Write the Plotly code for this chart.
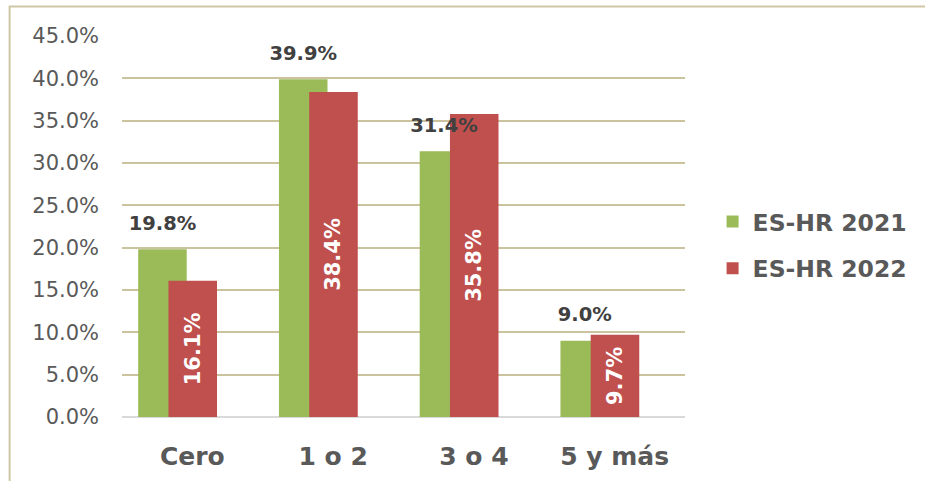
import plotly.graph_objects as go

categories = ["Cero", "1 o 2", "3 o 4", "5 y más"]
es_hr_2021 = [19.8, 39.9, 31.4, 9.0]
es_hr_2022 = [16.1, 38.4, 35.8, 9.7]
y_ticks = [0, 5, 10, 15, 20, 25, 30, 35, 40, 45]
y_tick_labels = [f"{v:.1f}%" for v in y_ticks]

GREEN = "#9BBB59"
RED = "#C0504D"
GRID = "#CBC29E"
TXT = "#595959"
DARK = "#404040"

xs = list(range(len(categories)))
BAR_W = 0.345
OFF_G = -0.385
OFF_R = -0.17

fig = go.Figure()
fig.add_trace(go.Bar(
    x=xs, y=es_hr_2021, name="ES-HR 2021", marker=dict(color=GREEN, line=dict(width=0)),
    width=BAR_W, offset=OFF_G, legendgroup="a", hoverinfo="skip",
))
fig.add_trace(go.Bar(
    x=xs, y=es_hr_2022, name="ES-HR 2022", marker=dict(color=RED, line=dict(width=0)),
    width=BAR_W, offset=OFF_R, legendgroup="b",
    text=[f"{v:.1f}%" for v in es_hr_2022], textposition="inside", textangle=-90,
    insidetextanchor="middle", constraintext="none",
    insidetextfont=dict(family="DejaVu Sans", size=21, color="white", weight="bold"),
    hoverinfo="skip",
))
fig.add_trace(go.Scatter(
    x=[x + OFF_G + BAR_W / 2 for x in xs], y=es_hr_2021, mode="markers+text",
    marker=dict(size=22, opacity=0), text=[f"{v:.1f}%" for v in es_hr_2021],
    textposition="top center", showlegend=False, cliponaxis=False,
    textfont=dict(family="DejaVu Sans", size=19.5, color=DARK, weight="bold"),
    hoverinfo="skip",
))

fig.update_layout(
    width=925, height=481,
    margin=dict(l=122, r=237, t=36, b=64),
    barmode="overlay",
    paper_bgcolor="white", plot_bgcolor="white",
    showlegend=True,
    legend=dict(x=1.049, y=0.57, xanchor="left", yanchor="top",
                font=dict(family="DejaVu Sans", size=23.5, color=TXT, weight="bold"),
                tracegroupgap=13, itemsizing="constant", bgcolor="rgba(0,0,0,0)"),
    xaxis=dict(range=[-0.5, 3.5], tickvals=xs, ticktext=categories, showgrid=False,
               zeroline=False, showline=False, ticks="", ticklabelstandoff=22,
               automargin=False,
               tickfont=dict(family="DejaVu Sans", size=25, color=TXT, weight="bold")),
    yaxis=dict(range=[0, 45], tickvals=y_ticks, ticktext=y_tick_labels, showgrid=True,
               gridcolor=GRID, gridwidth=2, zeroline=True, zerolinecolor="#D9D9D9",
               zerolinewidth=2, showline=False, ticks="", ticklabelstandoff=22,
               automargin=False,
               tickfont=dict(family="DejaVu Sans", size=21, color=TXT)),
    shapes=[dict(type="rect", xref="paper", yref="paper",
                 x0=(9 - 122) / 566, x1=(940 - 122) / 566,
                 y0=(417 - 500) / 381, y1=(417 - 6.5) / 381,
                 line=dict(color="#CFC6A3", width=2), fillcolor="rgba(0,0,0,0)",
                 layer="below")],
)

fig.write_html("out.html")
